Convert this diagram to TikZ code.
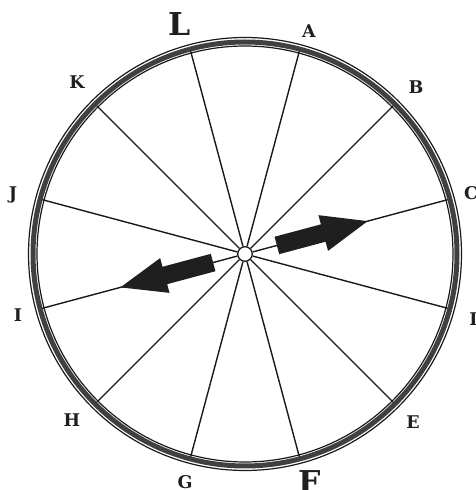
\documentclass[tikz,border=0pt]{standalone}
\usepackage{fontspec}
\newfontfamily\lblfont{DejaVu Serif}
\begin{document}
\begin{tikzpicture}[x=1pt,y=1pt,
  spoke/.style={line width=1.4pt, draw=black!90},
  lbl/.style={font=\lblfont\fontsize{17.5}{17.5}\bfseries\selectfont, text=black!88, inner sep=0pt},
  biglbl/.style={font=\lblfont\fontsize{31.5}{31.5}\bfseries\selectfont, text=black!88, inner sep=0pt},
  blockarrow/.style={fill=black!88}
]
\useasboundingbox (0,0) rectangle (476,490);
\coordinate (c) at (245,236);
% spokes
\begin{scope}[shift={(245,236)}]
  \foreach \n/\a in {A/75,B/45,C/15,D/-15,E/-45,F/-75,G/-105,H/-135,I/-165,J/165,K/135,L/105}{
    \coordinate (s\n) at (\a:211pt);
  }
  \node[circle, draw=black!90, line width=1.3pt, fill=white, minimum size=14.6pt, inner sep=0pt] (hub) at (0,0) {};
  \foreach \n in {A,B,C,D,E,F,G,H,I,J,K,L}{
    \draw[spoke] (hub) -- (s\n);
  }
  % block arrows
  \begin{scope}[rotate=15]
    \fill[blockarrow] (33,-9) -- (81,-9) -- (81,-18.5) -- (127,0) -- (81,18.5) -- (81,9) -- (33,9) -- cycle;
  \end{scope}
  \begin{scope}[rotate=195]
    \fill[blockarrow] (33,-9) -- (83,-9) -- (83,-18) -- (129,0) -- (83,18) -- (83,9) -- (33,9) -- cycle;
  \end{scope}
\end{scope}
% rim
\draw[line width=5pt, black!75] (c) circle (212pt);
\draw[line width=1.2pt, black!90] (c) circle (216.5pt);
\draw[line width=1.2pt, black!90] (c) circle (208pt);
% labels
\node[biglbl] (lL) at (180,466) {L};
\node[lbl] (lA) at (309,459) {A};
\node[lbl] (lB) at (416,403) {B};
\node[lbl] (lC) at (471,297) {C};
\node[lbl] (lD) at (477,171) {D};
\node[lbl] (lE) at (413,68) {E};
\node[biglbl] (lF) at (310,8) {F};
\node[lbl] (lG) at (185,8) {G};
\node[lbl] (lH) at (72,70) {H};
\node[lbl] (lI) at (18,175) {I};
\node[lbl] (lJ) at (13,295) {J};
\node[lbl] (lK) at (77,408) {K};
\end{tikzpicture}
\end{document}
